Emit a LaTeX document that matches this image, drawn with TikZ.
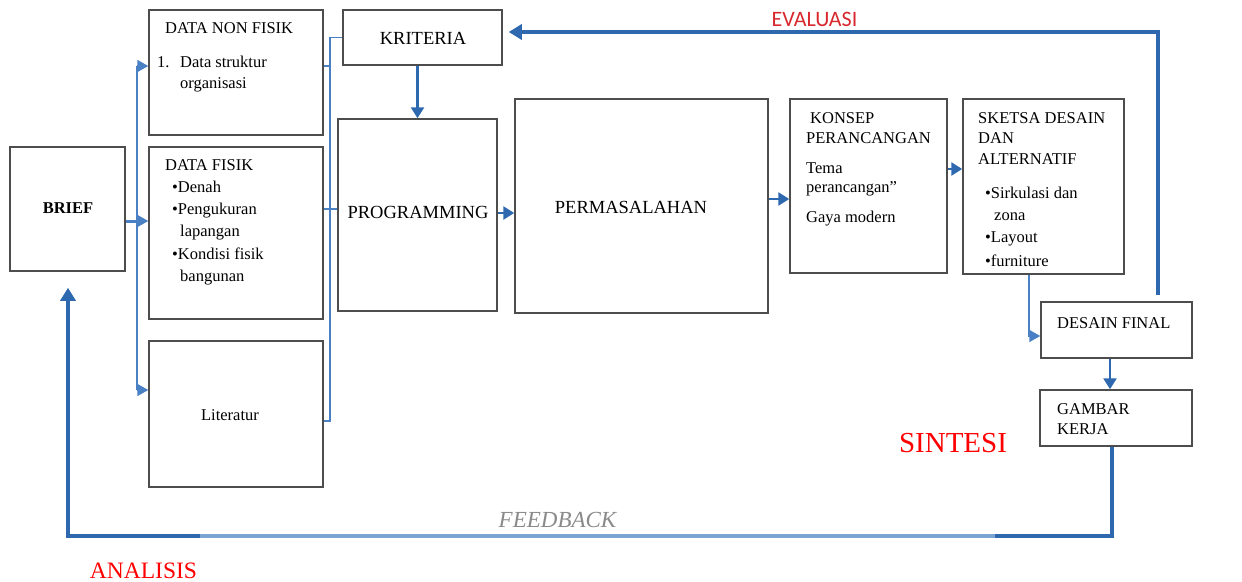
\documentclass[tikz,border=0pt]{standalone}
\usepackage{fontspec}
\setmainfont{Liberation Serif}
\newfontfamily\evalfont{Carlito}
\usetikzlibrary{arrows.meta,calc,positioning}
\definecolor{linkblue}{HTML}{4A80C4}
\definecolor{darkblue}{HTML}{2E69B0}
\definecolor{fadeblue}{HTML}{7AA4D3}
\definecolor{boxgray}{HTML}{4D4D4D}
\definecolor{labelred}{HTML}{FF0000}
\definecolor{evalred}{HTML}{D8282E}
\definecolor{fbgray}{HTML}{8A8A8A}

\begin{document}
\begin{tikzpicture}[x=1pt, y=-1pt,
  box/.style={draw=boxgray, line width=1.5pt, inner sep=0pt},
  txt/.style={anchor=base west, inner sep=0pt, font=\fontsize{16.5}{19}\selectfont},
  ctxt/.style={txt, anchor=base},
  link/.style={draw=linkblue, line width=1.6pt},
  arr/.style={link, -{Triangle[length=11pt,width=12pt]}},
  mainarr/.style={draw=darkblue, line width=2.6pt, -{Triangle[length=11pt,width=13pt]}},
  flow/.style={draw=darkblue, line width=4.5pt},
  bigarr/.style={flow, -{Triangle[length=13pt,width=15pt]}}]
  \useasboundingbox (0,0) rectangle (1242,581);
  \fill[white] (0,0) rectangle (1242,581);

  % boxes
  \node[box, minimum width=115, minimum height=124] (brief) at (67.5,209) {};
  \node[box, minimum width=174, minimum height=125] (nonfisik) at (236,72.5) {};
  \node[box, minimum width=174, minimum height=172] (fisik) at (236,233) {};
  \node[box, minimum width=174, minimum height=146] (literatur) at (236,414) {};
  \node[box, minimum width=159, minimum height=55] (kriteria) at (422.5,37.5) {};
  \node[box, minimum width=159, minimum height=192] (programming) at (417.5,215) {};
  \node[box, minimum width=253, minimum height=214] (permasalahan) at (641.5,206) {};
  \node[box, minimum width=157, minimum height=174] (konsep) at (868.5,186) {};
  \node[box, minimum width=161, minimum height=175] (sketsa) at (1043.5,186.5) {};
  \node[box, minimum width=151, minimum height=56] (desainfinal) at (1116.5,330) {};
  \node[box, minimum width=152, minimum height=56] (gambar) at (1116,418) {};

  % texts
  \node[ctxt, font=\fontsize{16.5}{19}\selectfont\bfseries] (brieftxt) at (68,213) {BRIEF};
  \node[txt] (nf0) at (165,33) {DATA NON FISIK};
  \node[txt] (nf1) at (157,67) {1.};
  \node[txt] (nf2) at (180,67) {Data struktur};
  \node[txt] (nf3) at (180,88) {organisasi};
  \node[txt] (df0) at (165,170) {DATA FISIK};
  \node[txt] (df1) at (172,192) {\textbullet Denah};
  \node[txt] (df2) at (172,214) {\textbullet Pengukuran};
  \node[txt] (df3) at (180,236) {lapangan};
  \node[txt] (df4) at (172,259) {\textbullet Kondisi fisik};
  \node[txt] (df5) at (180,281) {bangunan};
  \node[ctxt] (littxt) at (230,420) {Literatur};
  \node[ctxt, font=\fontsize{18.5}{22}\selectfont] (krittxt) at (423,44) {KRITERIA};
  \node[ctxt, font=\fontsize{18.5}{22}\selectfont] (progtxt) at (418,218) {PROGRAMMING};
  \node[ctxt, font=\fontsize{18.5}{22}\selectfont] (permtxt) at (631,213) {PERMASALAHAN};
  \node[txt] (ko0) at (810,123) {KONSEP};
  \node[txt] (ko1) at (806,143) {PERANCANGAN};
  \node[txt] (ko2) at (806,173) {Tema};
  \node[txt] (ko3) at (806,192) {perancangan”};
  \node[txt] (ko4) at (806,222) {Gaya modern};
  \node[txt] (sk0) at (978,123) {SKETSA DESAIN};
  \node[txt] (sk1) at (978,143) {DAN};
  \node[txt] (sk2) at (978,164) {ALTERNATIF};
  \node[txt] (sk3) at (985,198) {\textbullet Sirkulasi dan};
  \node[txt] (sk4) at (994,220) {zona};
  \node[txt] (sk5) at (985,242) {\textbullet Layout};
  \node[txt] (sk6) at (985,266) {\textbullet furniture};
  \node[txt] (dftxt) at (1057,328) {DESAIN FINAL};
  \node[txt] (gk0) at (1057,414) {GAMBAR};
  \node[txt] (gk1) at (1057,434) {KERJA};

  % labels
  \node[anchor=base, inner sep=0pt, text=evalred, font=\evalfont\fontsize{22}{26}\selectfont] (evaluasi) at (814.5,26) {EVALUASI};
  \node[anchor=base, inner sep=0pt, text=labelred, font=\fontsize{29}{34}\selectfont] (sintesi) at (953,452) {SINTESI};
  \node[anchor=base, inner sep=0pt, text=labelred, font=\fontsize{23.5}{28}\selectfont] (analisis) at (143.5,578) {ANALISIS};
  \node[anchor=base, inner sep=0pt, text=fbgray, font=\fontsize{23}{27}\selectfont\itshape] (feedback) at (557.5,527) {FEEDBACK};

  % left bus
  \coordinate (a1) at (137,66);
  \coordinate (a2) at (137,221);
  \coordinate (a3) at (137,390);
  \draw[link, line width=3pt] (brief.east |- a2) -- (a2);
  \draw[link] (a1) -- (a3);
  \draw[arr] (a1) -- (a1 -| nonfisik.west);
  \draw[arr] (a2) -- (a2 -| fisik.west);
  \draw[arr] (a3) -- (a3 -| literatur.west);

  % right bus
  \coordinate (b1) at (330,37.5);
  \coordinate (b2) at (330,209);
  \coordinate (b4) at (330,421);
  \draw[link] (kriteria.west) -- (b1) -- (b4) -- (b4 -| literatur.east);
  \draw[link] (a1 -| nonfisik.east) -- (a1 -| b1);
  \draw[link] (b2 -| fisik.east) -- (b2 -| programming.west);

  % main flow
  \draw[mainarr] (programming.north |- kriteria.south) -- (programming.north);
  \draw[mainarr] (programming.east |- 0,213) -- (permasalahan.west |- 0,213);
  \draw[mainarr] (permasalahan.east |- 0,199) -- (konsep.west |- 0,199);
  \draw[mainarr] (konsep.east |- 0,169) -- (sketsa.west |- 0,169);
  \coordinate (s1) at (1029,336);
  \draw[arr] (sketsa.south -| s1) -- (s1) -- (s1 -| desainfinal.west);
  \draw[mainarr] (desainfinal.south -| 1110,0) -- (gambar.north -| 1110,0);

  % evaluasi
  \coordinate (ev0) at (1158,295);
  \coordinate (ev1) at (1158,32);
  \draw[bigarr, shorten >=6pt] (ev0) -- (ev1) -- (ev1 -| kriteria.east);

  % feedback
  \coordinate (fb1) at (1112,536);
  \coordinate (fb2) at (68,536);
  \draw[bigarr, shorten >=16pt] (gambar.south -| fb1) -- (fb1) -- (fb2) -- (brief.south -| fb2);
  \coordinate (fbA) at (200,536);
  \coordinate (fbB) at (995,536);
  \draw[draw=fadeblue, line width=3.6pt] (fbA) -- (fbB);
\end{tikzpicture}
\end{document}
